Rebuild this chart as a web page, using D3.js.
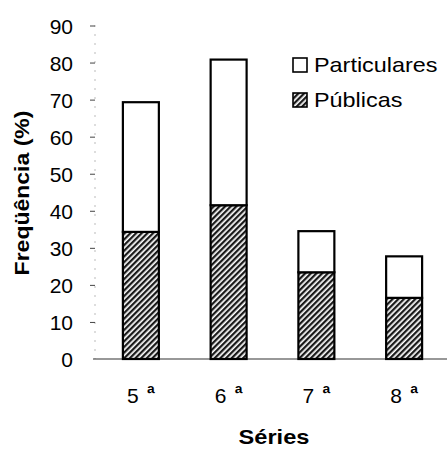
<!DOCTYPE html>
<html><head><meta charset="utf-8">
<script src="https://cdn.jsdelivr.net/npm/d3@7"></script>
<style>body{margin:0;background:#fff}svg{display:block}text{font-family:"Liberation Sans",Arial,sans-serif;fill:#000}</style>
</head><body>
<script>
const categories = ["5", "6", "7", "8"];
const publicas = [34.3, 41.5, 23.4, 16.5];
const particulares = [35.0, 39.3, 11.1, 11.2];
const yTicks = [0, 10, 20, 30, 40, 50, 60, 70, 80, 90];
const seriesNames = ["Particulares", "Públicas"];

const W = 447, H = 450;
const svg = d3.select("body").append("svg").attr("width", W).attr("height", H);

const defs = svg.append("defs");
const pat = defs.append("pattern").attr("id", "hatch").attr("patternUnits", "userSpaceOnUse")
  .attr("width", 4).attr("height", 4).attr("patternTransform", "rotate(45)");
pat.append("rect").attr("width", 4).attr("height", 4).attr("fill", "#fff");
pat.append("rect").attr("x", 0).attr("width", 2.3).attr("height", 4).attr("fill", "#1a1a1a");

const x = d3.scaleBand().domain(categories).range([97, 448]).paddingInner(0.59).paddingOuter(0.295);
const y = d3.scaleLinear().domain([0, 90]).range([359, 25.5]);

// y axis
const yAxis = d3.axisLeft(y).tickValues(yTicks).tickSize(5).tickPadding(17);
const gy = svg.append("g").attr("transform", "translate(95,0)").call(yAxis);
gy.select(".domain").attr("stroke", "#777").attr("stroke-dasharray", "1,8").attr("d", `M0,${y(90)}V${y(0)}`);
gy.selectAll(".tick line").attr("stroke", "#444").attr("stroke-width", 1);
gy.selectAll(".tick text").attr("font-size", 21).style("font-family", '"Liberation Sans",Arial,sans-serif')
  .attr("fill", "#000").attr("dy", "0.36em");
gy.selectAll(".tick").filter(d => d === 0).select("line").remove();

// baseline
svg.append("line").attr("x1", 93).attr("x2", 447).attr("y1", y(0)).attr("y2", y(0))
  .attr("stroke", "#333").attr("stroke-width", 1.2);

// bars
const bars = svg.append("g");
categories.forEach((c, i) => {
  bars.append("rect").attr("x", x(c)).attr("width", x.bandwidth())
    .attr("y", y(publicas[i])).attr("height", y(0) - y(publicas[i]))
    .attr("fill", "url(#hatch)").attr("stroke", "#000").attr("stroke-width", 2.2);
  bars.append("rect").attr("x", x(c)).attr("width", x.bandwidth())
    .attr("y", y(publicas[i] + particulares[i])).attr("height", y(publicas[i]) - y(publicas[i] + particulares[i]))
    .attr("fill", "#fff").attr("stroke", "#000").attr("stroke-width", 2.2);
});

// category labels
categories.forEach(c => {
  const cx = x(c) + x.bandwidth() / 2;
  svg.append("text").attr("x", cx - 14).attr("y", 403).attr("font-size", 21).text(c);
  svg.append("text").attr("x", cx + 6).attr("y", 401).attr("font-size", 21).attr("font-weight", "bold").text("ª");
});

// axis titles
svg.append("text").attr("transform", "translate(274,444) scale(1.18,1)")
  .attr("text-anchor", "middle").attr("font-size", 20).attr("font-weight", "bold").text("Séries");
svg.append("text").attr("transform", "translate(29,193) rotate(-90) scale(1.15,1)")
  .attr("text-anchor", "middle").attr("font-size", 20).attr("font-weight", "bold").text("Freqüência (%)");

// legend
const leg = svg.append("g");
const fills = ["#fff", "url(#hatch)"];
const legY = [58, 93];
seriesNames.forEach((n, i) => {
  leg.append("rect").attr("x", 293).attr("y", legY[i]).attr("width", 14).attr("height", 14)
    .attr("fill", fills[i]).attr("stroke", "#000").attr("stroke-width", 1.6);
  leg.append("text").attr("transform", `translate(314,${legY[i] + 14}) scale(1.17,1)`)
    .attr("font-size", 20).text(n);
});
</script>
</body></html>
